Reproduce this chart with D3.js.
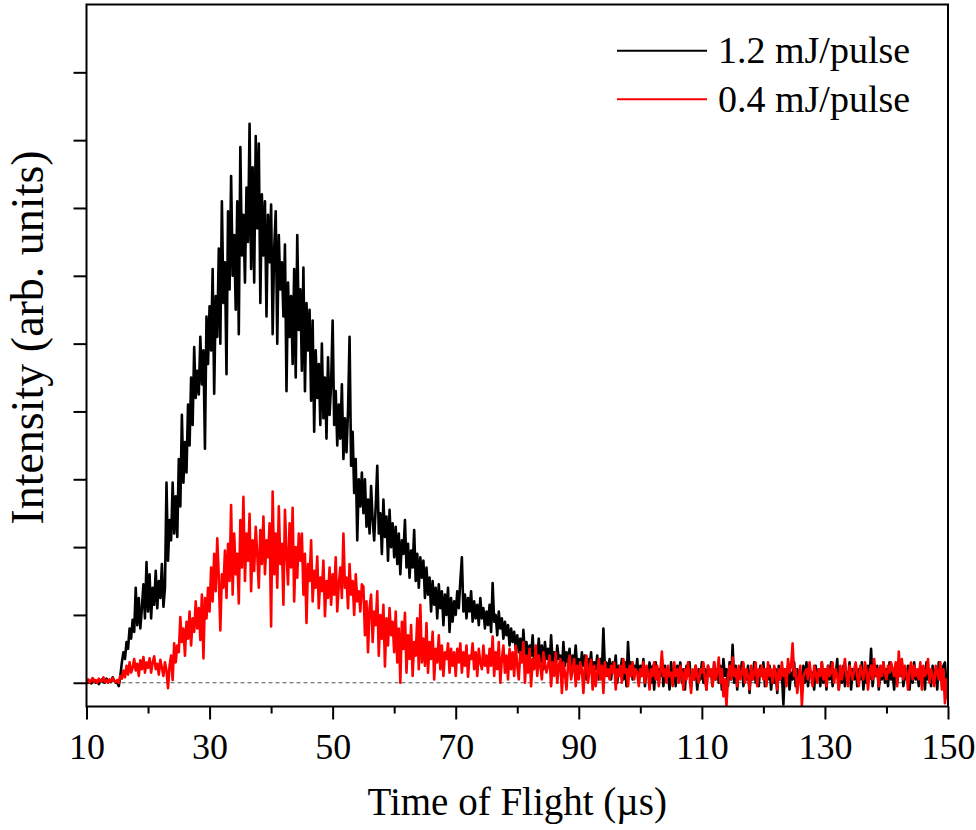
<!DOCTYPE html>
<html>
<head>
<meta charset="utf-8">
<script src="https://cdn.jsdelivr.net/npm/d3@7"></script>
<style>
  html, body { margin: 0; padding: 0; background: #fff; }
  svg { display: block; }
  text { font-family: "Liberation Serif", "Times New Roman", serif; fill: #000; }
</style>
</head>
<body>
<svg id="chart" width="976" height="830"></svg>
<script>
// ---- data ----
const timeStart = 10;      // µs, first sample
const timeStep = 0.25;     // µs between samples

const seriesNames = ["1.2 mJ/pulse", "0.4 mJ/pulse"];
const seriesColors = ["#000000", "#ff0000"];

const xTicks = [10, 30, 50, 70, 90, 110, 130, 150];
const xMinorTicks = [20, 40, 60, 80, 100, 120, 140];
const yTicks = [0, 1, 2, 3, 4, 5, 6, 7, 8, 9];

// 1.2 mJ/pulse, one row = 5 µs (20 samples)
const intensityHigh = [
  0.02,0.00,0.03,-0.01,0.01,0.04,0.00,0.02,-0.02,0.03,0.05,0.01,0.00,0.06,0.02,0.04,0.01,0.08,0.03,0.00,
  0.00,-0.05,0.10,0.30,0.45,0.35,0.60,0.50,0.80,0.65,0.93,0.75,1.40,0.85,1.25,0.80,1.10,1.45,0.95,1.78,
  1.05,1.60,0.95,1.40,1.15,1.65,1.10,1.50,1.25,1.75,1.12,1.40,2.95,1.80,2.40,2.10,2.95,2.20,2.75,2.15,
  3.30,2.60,3.95,2.95,3.55,3.10,4.10,3.50,4.50,3.80,4.95,4.20,4.60,4.25,5.10,4.40,4.90,3.45,5.40,4.70,
  5.55,4.90,6.10,4.26,5.70,5.10,6.40,5.00,7.10,5.60,6.20,4.55,6.95,5.80,7.47,6.00,6.60,5.50,7.10,5.14,
  7.90,6.30,6.90,5.90,7.30,6.50,8.24,6.10,7.60,5.90,8.06,6.70,7.95,5.60,7.20,6.30,7.10,5.40,6.90,6.20,
  7.05,5.14,6.40,6.95,5.00,6.60,5.80,6.20,5.40,6.46,4.30,5.90,5.10,5.70,4.70,6.10,4.50,6.60,5.20,5.80,
  4.60,6.12,4.30,5.60,4.90,5.50,4.16,5.34,3.70,4.90,4.20,4.70,3.80,5.00,3.90,4.50,3.60,4.80,3.95,4.40,
  5.34,3.80,4.30,3.50,4.10,3.60,4.40,3.30,3.90,3.40,4.00,5.10,3.20,3.70,2.80,3.30,2.10,3.00,2.60,3.10,
  2.50,3.00,2.30,2.70,2.20,2.90,2.40,2.10,2.60,3.20,2.20,2.50,1.90,2.70,2.15,2.45,1.80,2.55,2.00,2.35,
  1.85,2.30,1.75,2.20,1.60,2.10,1.90,2.40,1.70,2.05,1.55,1.95,1.70,2.25,1.50,1.90,1.40,1.85,1.55,1.80,
  1.25,1.70,1.30,1.55,1.05,1.50,1.15,1.40,0.95,1.45,1.10,1.35,0.85,1.30,1.00,1.40,0.75,1.25,0.90,1.20,
  1.00,1.35,1.10,1.50,1.85,1.05,1.30,0.95,1.25,1.05,1.35,0.90,1.20,0.95,1.15,0.85,1.25,0.95,1.10,0.80,
  1.05,0.85,1.15,0.75,1.47,0.90,1.00,0.70,1.05,0.80,0.95,0.65,0.90,0.70,0.85,0.55,0.80,0.60,0.75,0.50,
  0.70,0.45,0.65,0.35,0.78,0.40,0.60,0.30,0.55,0.40,0.70,0.25,0.50,0.35,0.65,0.30,0.55,0.20,0.60,0.35,
  0.50,0.25,0.70,0.30,0.45,0.20,0.55,0.35,0.40,0.15,0.60,0.25,0.45,0.30,0.50,0.10,0.40,0.25,0.55,0.20,
  0.35,0.15,0.45,0.25,0.40,0.05,0.35,0.20,0.45,0.10,0.30,0.20,0.40,0.05,0.35,0.15,0.80,0.20,0.30,0.10,
  0.35,0.05,0.30,0.20,0.40,0.00,0.25,0.15,0.35,0.05,0.30,-0.05,0.60,0.15,0.30,0.05,0.25,0.15,0.35,0.00,
  0.25,0.10,0.35,-0.05,0.20,0.15,0.30,0.00,0.25,-0.10,0.30,0.05,0.20,0.10,0.35,-0.05,0.25,0.10,0.15,-0.10,
  0.30,0.05,0.20,-0.05,0.25,0.15,0.30,0.00,0.20,-0.10,0.25,0.10,0.30,-0.05,0.15,0.05,0.25,-0.10,0.20,0.05,
  0.30,0.00,0.20,-0.10,0.25,0.10,0.15,-0.05,0.30,0.05,0.20,0.00,0.25,-0.10,0.35,0.10,0.20,-0.05,0.30,0.05,
  0.56,0.00,0.25,-0.10,0.20,0.10,0.30,-0.05,0.15,0.05,0.25,-0.15,0.20,0.05,0.30,0.00,0.15,-0.05,0.25,0.10,
  0.30,-0.05,0.20,0.05,0.25,-0.10,0.15,0.00,0.20,-0.15,0.25,0.05,0.15,-0.32,0.20,0.00,0.25,-0.10,0.15,0.05,
  0.30,-0.05,0.20,0.05,0.15,-0.10,0.25,0.00,0.30,-0.05,0.20,0.10,0.15,-0.10,0.25,0.05,0.20,-0.05,0.30,0.00,
  0.20,-0.10,0.25,0.05,0.30,-0.05,0.15,0.10,0.35,-0.10,0.20,0.00,0.25,-0.05,0.15,0.05,0.30,-0.10,0.20,0.05,
  0.25,-0.05,0.20,0.05,0.30,-0.10,0.15,0.00,0.25,0.05,0.50,-0.05,0.20,0.10,0.25,-0.10,0.15,0.05,0.30,0.00,
  0.20,-0.05,0.30,0.05,0.15,-0.10,0.25,0.00,0.20,0.10,0.30,-0.05,0.15,0.05,0.25,-0.10,0.20,0.00,0.30,0.05,
  0.15,-0.05,0.25,0.10,0.20,-0.10,0.30,0.05,0.15,-0.05,0.25,0.00,0.20,-0.10,0.30,0.05,0.15,0.25,0.30,-0.05,
  0.10
];

// 0.4 mJ/pulse, one row = 5 µs (20 samples)
const intensityLow = [
  0.02,0.05,0.00,0.03,0.07,0.01,0.04,0.00,0.06,0.02,0.03,0.08,0.01,0.04,0.00,0.05,0.02,0.07,0.03,0.01,
  0.04,0.00,0.10,0.06,0.18,0.08,0.25,0.12,0.30,0.15,0.22,0.35,0.18,0.28,0.10,0.33,0.20,0.38,0.15,0.30,
  0.22,0.36,0.15,0.30,0.39,0.20,0.28,0.12,0.34,0.22,0.10,0.30,0.18,-0.08,0.25,0.40,0.04,0.58,0.30,0.55,
  0.45,0.97,0.60,0.80,0.40,0.90,0.65,1.05,0.55,0.95,0.75,1.20,0.80,1.10,0.63,1.30,0.36,1.25,0.95,1.40,
  1.05,1.70,1.20,1.90,1.35,2.13,1.55,0.77,1.60,1.40,1.95,1.25,2.05,1.50,2.62,1.30,2.20,1.60,1.90,1.17,
  2.40,1.70,2.74,1.50,2.20,1.80,2.49,1.35,2.10,1.65,2.30,1.90,1.40,2.25,1.75,2.45,1.60,2.10,1.85,2.35,
  0.83,2.82,1.60,2.20,1.40,2.60,1.75,2.05,1.15,2.55,1.90,1.45,2.35,1.70,2.58,1.20,2.00,1.55,2.20,1.80,
  2.20,1.30,1.90,0.88,1.75,1.50,2.10,1.20,1.65,1.40,1.86,1.10,1.55,1.35,1.80,0.98,1.50,1.25,1.70,1.15,
  1.60,1.30,1.85,1.05,1.45,1.70,1.25,2.20,1.40,1.55,1.10,1.75,1.30,1.50,1.00,1.60,1.20,1.35,1.05,1.45,
  1.42,0.70,1.20,0.45,1.10,1.30,0.60,1.05,0.85,1.35,0.40,1.00,0.65,1.15,0.24,0.95,0.55,1.10,0.70,0.90,
  0.45,1.05,0.30,0.80,0.00,0.90,0.50,1.03,0.15,0.70,0.35,0.85,0.10,0.60,0.40,0.95,0.20,1.15,0.30,0.65,
  0.25,0.88,0.15,0.60,0.35,0.75,0.05,0.50,0.30,0.70,0.20,0.55,0.10,0.45,0.35,0.58,0.15,0.50,0.25,0.45,
  0.10,0.50,0.30,0.58,0.15,0.45,0.25,0.55,0.09,0.40,0.35,0.58,0.20,0.45,0.10,0.50,0.30,0.20,0.55,0.25,
  0.40,0.15,0.50,0.25,0.68,0.10,0.45,0.20,0.60,0.00,0.35,0.55,0.15,0.40,0.05,0.50,0.20,0.45,0.10,0.55,
  0.25,0.05,0.45,0.30,0.60,0.00,0.40,0.15,0.50,-0.05,0.35,0.20,0.55,0.10,0.40,0.25,0.05,0.45,0.30,0.15,
  0.25,0.40,-0.05,0.30,0.10,0.44,0.00,0.25,0.35,-0.15,0.30,0.15,-0.10,0.25,0.40,0.05,0.20,0.35,-0.05,0.25,
  0.05,0.30,0.20,-0.15,0.25,0.40,0.00,0.20,0.34,-0.10,0.25,-0.05,0.15,0.35,0.05,0.25,-0.15,0.30,0.10,0.20,
  0.05,0.25,0.15,0.30,-0.10,0.20,0.10,0.25,0.00,0.35,0.15,0.20,-0.05,0.25,0.10,0.30,0.05,0.20,0.15,-0.05,
  0.20,0.10,0.30,0.00,0.25,0.15,-0.10,0.20,0.10,0.30,0.05,0.25,-0.05,0.15,0.46,0.10,0.20,0.00,0.25,0.10,
  0.15,-0.05,0.30,0.10,0.20,0.00,0.25,0.15,-0.10,0.20,0.05,0.30,0.10,-0.15,0.20,0.05,0.25,0.10,0.00,0.20,
  0.15,0.30,0.05,-0.10,0.25,0.10,0.20,-0.05,0.30,0.05,0.15,0.37,0.00,0.20,-0.20,0.05,-0.34,0.10,0.25,0.05,
  0.37,0.10,0.20,-0.05,0.25,0.05,0.15,0.30,0.00,0.20,0.10,-0.10,0.25,0.05,0.15,0.30,-0.05,0.20,0.10,0.25,
  0.05,0.20,-0.05,0.30,0.10,0.20,0.00,0.25,0.15,-0.10,0.20,0.05,0.30,0.10,0.20,-0.05,0.35,0.15,0.25,0.58,
  0.10,0.20,-0.15,0.05,0.25,-0.34,0.10,0.15,0.20,0.05,0.30,0.10,-0.05,0.25,0.15,0.00,0.20,0.10,0.30,0.05,
  0.20,-0.05,0.25,0.10,0.15,0.30,0.00,0.20,0.10,-0.10,0.25,0.05,0.20,0.35,0.10,-0.05,0.25,0.15,0.05,0.20,
  0.30,0.10,-0.05,0.25,0.15,0.05,0.30,0.20,-0.10,0.15,0.25,0.05,0.35,0.10,0.20,-0.05,0.25,0.10,0.30,0.15,
  0.05,0.25,0.15,0.30,0.20,0.10,0.30,-0.05,0.46,0.10,0.35,0.05,0.25,0.15,-0.10,0.20,0.30,0.05,0.25,0.10,
  0.20,0.05,0.30,-0.10,0.25,0.10,0.15,0.35,0.00,0.20,0.10,-0.05,0.25,0.15,0.05,0.30,-0.10,0.20,-0.30,0.05,
  -0.25
];

const xTitle = "Time of Flight (\u00b5s)";
const yTitle = "Intensity (arb. units)";

// ---- layout ----
const plot = { left: 86.5, right: 948, top: 4.5, bottom: 706.5 };

const svg = d3.select("#chart");

const x = d3.scaleLinear().domain([10, 150]).range([plot.left, plot.right]);
const y = d3.scaleLinear().domain([-0.35, 10]).range([plot.bottom, plot.top]);

// zero reference line
svg.append("line")
  .attr("x1", x(10)).attr("x2", x(150))
  .attr("y1", y(0)).attr("y2", y(0))
  .attr("stroke", "#555").attr("stroke-width", 1.2)
  .attr("stroke-dasharray", "4,3");

svg.append("clipPath").attr("id", "clip")
  .append("rect")
  .attr("x", plot.left).attr("y", plot.top)
  .attr("width", plot.right - plot.left).attr("height", plot.bottom - plot.top);

const line = d3.line()
  .x((d, i) => x(timeStart + i * timeStep))
  .y(d => y(d));

[intensityHigh, intensityLow].forEach((vals, k) => {
  svg.append("path")
    .datum(vals)
    .attr("clip-path", "url(#clip)")
    .attr("fill", "none")
    .attr("stroke", seriesColors[k])
    .attr("stroke-width", 2.6)
    .attr("stroke-linejoin", "round")
    .attr("d", line);
});

// frame
svg.append("rect")
  .attr("x", plot.left).attr("y", plot.top)
  .attr("width", plot.right - plot.left).attr("height", plot.bottom - plot.top)
  .attr("fill", "none").attr("stroke", "#000").attr("stroke-width", 2);

// x axis
const xAxis = svg.append("g")
  .attr("transform", `translate(0,${plot.bottom})`)
  .call(d3.axisBottom(x).tickValues(xTicks).tickSize(13).tickPadding(14).tickFormat(d3.format("d")));
xAxis.select(".domain").remove();
xAxis.selectAll(".tick line").attr("stroke", "#000").attr("stroke-width", 2);
xAxis.selectAll(".tick text")
  .style("font-family", '"Liberation Serif", serif')
  .style("font-size", "36px").attr("fill", "#000");

const xMinor = svg.append("g")
  .attr("transform", `translate(0,${plot.bottom})`)
  .call(d3.axisBottom(x).tickValues(xMinorTicks).tickSize(7).tickFormat(""));
xMinor.select(".domain").remove();
xMinor.selectAll(".tick line").attr("stroke", "#000").attr("stroke-width", 2);

// y axis (ticks only, no labels)
const yAxis = svg.append("g")
  .attr("transform", `translate(${plot.left},0)`)
  .call(d3.axisLeft(y).tickValues(yTicks).tickSize(13).tickFormat(""));
yAxis.select(".domain").remove();
yAxis.selectAll(".tick line").attr("stroke", "#000").attr("stroke-width", 2);

// axis titles
svg.append("text")
  .attr("x", (plot.left + plot.right) / 2).attr("y", 815)
  .attr("text-anchor", "middle")
  .style("font-size", "39px")
  .text(xTitle);

svg.append("text")
  .attr("transform", `translate(43,${(plot.top + plot.bottom) / 2 - 18}) rotate(-90)`)
  .attr("text-anchor", "middle")
  .style("font-size", "46px")
  .text(yTitle);

// legend
const legend = svg.append("g");
seriesNames.forEach((name, k) => {
  const ly = 50.7 + k * 48.5;
  legend.append("line")
    .attr("x1", 617).attr("x2", 707)
    .attr("y1", ly).attr("y2", ly)
    .attr("stroke", seriesColors[k]).attr("stroke-width", 2);
  legend.append("text")
    .attr("x", 718).attr("y", ly + 12.5)
    .style("font-size", "38px")
    .text(name);
});
</script>
</body>
</html>
